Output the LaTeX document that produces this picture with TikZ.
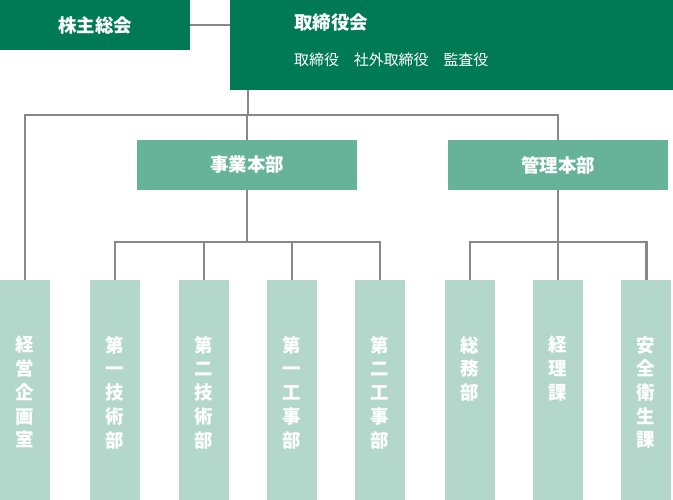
\documentclass[tikz,border=0pt]{standalone}
\usepackage{fontspec}
\setmainfont{Noto Sans CJK JP}
\definecolor{dkgreen}{HTML}{007A55}
\definecolor{mdgreen}{HTML}{66B39A}
\definecolor{ltgreen}{HTML}{B3D8CB}
\definecolor{linegray}{HTML}{888888}
\tikzset{
  topbox/.style={fill=dkgreen,text=white,inner sep=0pt,font=\fontsize{10.5}{12}\selectfont\bfseries},
  midbox/.style={fill=mdgreen,text=white,minimum width=4.4cm,minimum height=1cm,inner sep=0pt,font=\fontsize{10.5}{12}\selectfont\bfseries},
  deptbox/.style={fill=ltgreen,text=white,minimum width=1cm,minimum height=4.4cm,inner sep=0pt,align=center,font=\fontsize{10.5}{13.5}\selectfont\bfseries},
  link/.style={draw=linegray,line width=1.7pt}
}
\begin{document}
\begin{tikzpicture}[x=0.02cm,y=-0.02cm]
	\useasboundingbox (0,0) rectangle (673,500);

	% Top
	\node[topbox,minimum width=3.8cm,minimum height=1cm] (holders) at (95,25) {株主総会};
	\node[topbox,minimum width=8.86cm,minimum height=1.8cm] (board) at (451.5,45) {};
	\node[white,anchor=west,font=\fontsize{10.5}{12}\selectfont\bfseries] (boardt) at (288,23) {取締役会};
	\node[white,anchor=west,font=\fontsize{8.5}{10}\selectfont] (boards) at (288,60) {取締役\quad 社外取締役\quad 監査役};

	% Divisions
	\node[midbox] (biz) at (247,165) {事業本部};
	\node[midbox] (adm) at (558,165) {管理本部};

	% Departments
	\foreach \name/\x/\txt in {plan/25/経\\営\\企\\画\\室, techa/115/第\\一\\技\\術\\部, techb/204/第\\二\\技\\術\\部,
	    consa/292/第\\一\\工\\事\\部, consb/380/第\\二\\工\\事\\部, gen/470/総\\務\\部, acc/558/経\\理\\課, safe/646/安\\全\\衛\\生\\課}
	  \node[deptbox,text depth=0pt] (\name) at (\x,390) {};
	\foreach \name/\x/\txt in {plan/25/経\\営\\企\\画\\室, techa/115/第\\一\\技\\術\\部, techb/204/第\\二\\技\\術\\部,
	    consa/292/第\\一\\工\\事\\部, consb/380/第\\二\\工\\事\\部, gen/470/総\\務\\部, acc/558/経\\理\\課, safe/646/安\\全\\衛\\生\\課}
	  \node[white,align=center,anchor=north,font=\fontsize{10.5}{13.5}\selectfont\bfseries] at (\x,330) {\txt};

	%link
	\coordinate (top) at (248,115);
	\coordinate (bizbar) at (247,242);
	\coordinate (admbar) at (558,242);
	\draw[link] (holders.east) -- (230,25);
	\draw[link] (248,90) -- (top);
	\draw[link] (plan.north) |- (top) -| (adm.north);
	\draw[link] (top -| biz.north) -- (biz.north);
	\draw[link] (biz.south) -- (bizbar);
	\draw[link] (techa.north) |- (bizbar) -| (consb.north);
	\draw[link] (techb.north) -- (techb.north |- bizbar);
	\draw[link] (consa.north) -- (consa.north |- bizbar);
	\draw[link] (adm.south) -- (admbar);
	\draw[link] (gen.north) |- (admbar) -| (safe.north);
	\draw[link] (acc.north) -- (admbar);

\end{tikzpicture}
\end{document}
